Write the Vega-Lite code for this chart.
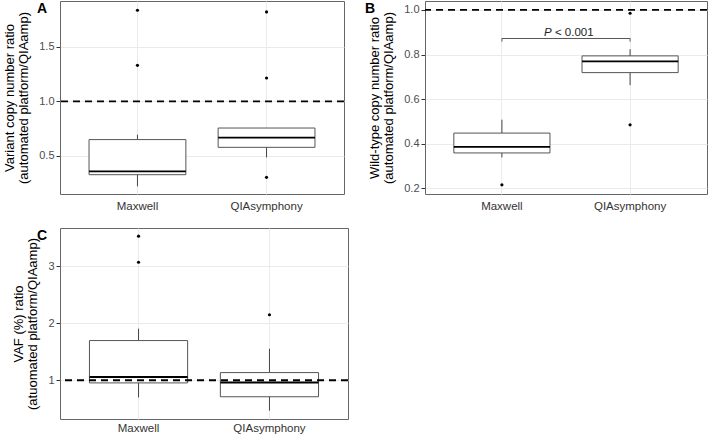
{
  "$schema": "https://vega.github.io/schema/vega-lite/v6.json",
  "padding": {"left": 3, "top": 0, "right": 0, "bottom": 0},
  "background": "white",
  "config": {
    "font": "Liberation Sans",
    "view": {"stroke": "#666", "strokeWidth": 1},
    "title": {"anchor": "start", "frame": "group", "fontSize": 14, "fontWeight": "bold", "color": "black", "offset": 0, "baseline": "top", "dy": 19},
    "axisY": {"titleFontSize": 13, "titleFontWeight": "normal", "titleColor": "black", "labelFontSize": 11, "labelColor": "#4d4d4d", "tickColor": "#333", "tickSize": 4, "domain": false, "gridColor": "#ebebeb", "labelPadding": 2, "titlePadding": 8, "titleLineHeight": 14},
    "axisX": {"labelFontSize": 11.5, "labelColor": "#333", "ticks": false, "domain": false, "gridColor": "#ebebeb", "labelPadding": 6, "labelAngle": 0, "bandPosition": 0.5, "title": null},
    "scale": {"bandPaddingInner": 0.25, "bandPaddingOuter": 0.225}
  },
  "vconcat": [
    {
      "hconcat": [
        {
          "width": 284, "height": 193,
          "title": {"text": "A", "dx": -23},
          "layer": [
            {
              "data": {"values": [
                {"platform": "Maxwell", "lo": 0.22, "q1": 0.327, "med": 0.358, "q3": 0.649, "hi": 0.694},
                {"platform": "QIAsymphony", "lo": 0.486, "q1": 0.578, "med": 0.667, "q3": 0.755, "hi": 0.755}
              ]},
              "encoding": {"x": {"field": "platform", "type": "nominal", "sort": null, "axis": {"grid": true}}},
              "layer": [
                {"mark": {"type": "rule", "color": "#444"}, "encoding": {"y": {"field": "lo", "type": "quantitative", "scale": {"domain": [0.15, 1.92], "nice": false, "zero": false}, "axis": {"values": [0.5, 1.0, 1.5], "format": ".1f"}, "title": ["Variant copy number ratio", "(automated platform/QIAamp)"]}, "y2": {"field": "hi"}}},
                {"mark": {"type": "bar", "fill": "white", "stroke": "#555", "strokeWidth": 1}, "encoding": {"y": {"field": "q1", "type": "quantitative"}, "y2": {"field": "q3"}}},
                {"mark": {"type": "bar", "fill": null, "stroke": "black", "strokeWidth": 1.8}, "encoding": {"y": {"field": "med", "type": "quantitative"}, "y2": {"field": "med"}}}
              ]
            },
            {
              "data": {"values": [
                {"platform": "Maxwell", "v": 1.835}, {"platform": "Maxwell", "v": 1.33},
                {"platform": "QIAsymphony", "v": 1.82}, {"platform": "QIAsymphony", "v": 1.214}, {"platform": "QIAsymphony", "v": 0.303}
              ]},
              "mark": {"type": "point", "filled": true, "color": "black", "size": 10, "opacity": 1},
              "encoding": {"x": {"field": "platform", "type": "nominal", "sort": null}, "y": {"field": "v", "type": "quantitative"}}
            },
            {
              "data": {"values": [{"ref": 1}]},
              "mark": {"type": "rule", "color": "black", "strokeWidth": 1.8, "strokeDash": [7, 5]},
              "encoding": {"y": {"field": "ref", "type": "quantitative"}}
            }
          ]
        },
        {
          "width": 282, "height": 193,
          "title": {"text": "B", "dx": -60},
          "layer": [
            {
              "data": {"values": [
                {"platform": "Maxwell", "lo": 0.339, "q1": 0.359, "med": 0.386, "q3": 0.448, "hi": 0.508},
                {"platform": "QIAsymphony", "lo": 0.663, "q1": 0.719, "med": 0.769, "q3": 0.794, "hi": 0.824}
              ]},
              "encoding": {"x": {"field": "platform", "type": "nominal", "sort": null, "axis": {"grid": true}}},
              "layer": [
                {"mark": {"type": "rule", "color": "#444"}, "encoding": {"y": {"field": "lo", "type": "quantitative", "scale": {"domain": [0.175, 1.04], "nice": false, "zero": false}, "axis": {"values": [0.2, 0.4, 0.6, 0.8, 1.0], "format": ".1f"}, "title": ["Wild-type copy number ratio", "(automated platform/QIAamp)"]}, "y2": {"field": "hi"}}},
                {"mark": {"type": "bar", "fill": "white", "stroke": "#555", "strokeWidth": 1}, "encoding": {"y": {"field": "q1", "type": "quantitative"}, "y2": {"field": "q3"}}},
                {"mark": {"type": "bar", "fill": null, "stroke": "black", "strokeWidth": 1.8}, "encoding": {"y": {"field": "med", "type": "quantitative"}, "y2": {"field": "med"}}}
              ]
            },
            {
              "data": {"values": [
                {"platform": "Maxwell", "v": 0.216},
                {"platform": "QIAsymphony", "v": 0.985}, {"platform": "QIAsymphony", "v": 0.485}
              ]},
              "mark": {"type": "point", "filled": true, "color": "black", "size": 10, "opacity": 1},
              "encoding": {"x": {"field": "platform", "type": "nominal", "sort": null}, "y": {"field": "v", "type": "quantitative"}}
            },
            {
              "data": {"values": [{"a": "Maxwell", "b": "QIAsymphony", "y": 0.872}]},
              "mark": {"type": "rule", "color": "#555", "strokeWidth": 1},
              "encoding": {"x": {"field": "a", "type": "nominal", "sort": null}, "x2": {"field": "b"}, "y": {"field": "y", "type": "quantitative"}}
            },
            {
              "data": {"values": [{"p": "Maxwell", "y": 0.872, "y2": 0.858}, {"p": "QIAsymphony", "y": 0.872, "y2": 0.858}]},
              "mark": {"type": "rule", "color": "#555", "strokeWidth": 1},
              "encoding": {"x": {"field": "p", "type": "nominal", "sort": null}, "y": {"field": "y", "type": "quantitative"}, "y2": {"field": "y2"}}
            },
            {
              "data": {"values": [{"p": "Maxwell", "y": 0.895, "label": "P"}]},
              "mark": {"type": "text", "fontStyle": "italic", "fontSize": 11.5, "align": "left", "baseline": "middle", "dx": 42, "color": "#222"},
              "encoding": {"x": {"field": "p", "type": "nominal", "sort": null}, "y": {"field": "y", "type": "quantitative"}, "text": {"field": "label"}}
            },
            {
              "data": {"values": [{"p": "Maxwell", "y": 0.895, "label": "< 0.001"}]},
              "mark": {"type": "text", "fontSize": 11.5, "align": "left", "baseline": "middle", "dx": 53, "color": "#222"},
              "encoding": {"x": {"field": "p", "type": "nominal", "sort": null}, "y": {"field": "y", "type": "quantitative"}, "text": {"field": "label"}}
            },
            {
              "data": {"values": [{"ref": 1}]},
              "mark": {"type": "rule", "color": "black", "strokeWidth": 1.8, "strokeDash": [7, 5]},
              "encoding": {"y": {"field": "ref", "type": "quantitative"}}
            }
          ]
        }
      ],
      "spacing": 18
    },
    {
      "width": 288, "height": 191,
      "title": {"text": "C", "dx": -23},
      "layer": [
        {
          "data": {"values": [
            {"platform": "Maxwell", "lo": 0.699, "q1": 0.953, "med": 1.057, "q3": 1.696, "hi": 1.904},
            {"platform": "QIAsymphony", "lo": 0.466, "q1": 0.71, "med": 0.96, "q3": 1.134, "hi": 1.551}
          ]},
          "encoding": {"x": {"field": "platform", "type": "nominal", "sort": null, "axis": {"grid": true, "labelPadding": 3}}},
          "layer": [
            {"mark": {"type": "rule", "color": "#444"}, "encoding": {"y": {"field": "lo", "type": "quantitative", "scale": {"domain": [0.32, 3.67], "nice": false, "zero": false}, "axis": {"values": [1, 2, 3], "format": "d"}, "title": ["VAF (%) ratio", "(atuomated platform/QIAamp)"]}, "y2": {"field": "hi"}}},
            {"mark": {"type": "bar", "fill": "white", "stroke": "#555", "strokeWidth": 1}, "encoding": {"y": {"field": "q1", "type": "quantitative"}, "y2": {"field": "q3"}}},
            {"mark": {"type": "bar", "fill": null, "stroke": "black", "strokeWidth": 1.8}, "encoding": {"y": {"field": "med", "type": "quantitative"}, "y2": {"field": "med"}}}
          ]
        },
        {
          "data": {"values": [
            {"platform": "Maxwell", "v": 3.527}, {"platform": "Maxwell", "v": 3.07},
            {"platform": "QIAsymphony", "v": 2.148}
          ]},
          "mark": {"type": "point", "filled": true, "color": "black", "size": 10, "opacity": 1},
          "encoding": {"x": {"field": "platform", "type": "nominal", "sort": null}, "y": {"field": "v", "type": "quantitative"}}
        },
        {
          "data": {"values": [{"ref": 1}]},
          "mark": {"type": "rule", "color": "black", "strokeWidth": 1.8, "strokeDash": [7, 5]},
          "encoding": {"y": {"field": "ref", "type": "quantitative"}}
        }
      ]
    }
  ],
  "spacing": 15
}
